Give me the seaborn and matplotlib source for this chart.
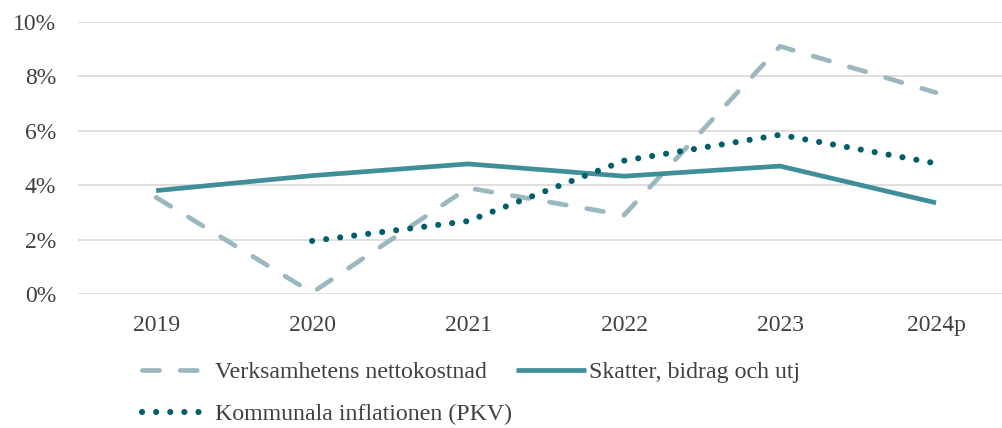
import matplotlib
matplotlib.use("Agg")
import matplotlib.pyplot as plt
import seaborn as sns
import pandas as pd
from matplotlib.ticker import PercentFormatter

years = ["2019", "2020", "2021", "2022", "2023", "2024p"]
netto = [3.55, 0.05, 3.9, 2.9, 9.1, 7.4]
skatter = [3.8, 4.35, 4.78, 4.33, 4.7, 3.35]
pkv = [None, 1.95, 2.68, 4.9, 5.85, 4.8]

labels = ["Verksamhetens nettokostnad", "Skatter, bidrag och utj",
          "Kommunala inflationen (PKV)"]
colors = ["#9BB7BF", "#3F8E99", "#005F6B"]

sns.set_theme(style="white")
plt.rcParams["font.family"] = ["Liberation Serif", "DejaVu Serif"]

df = pd.DataFrame({"x": range(len(years)), labels[0]: netto,
                   labels[1]: skatter, labels[2]: pkv})

fig = plt.figure(figsize=(10.02, 4.28), dpi=100)
ax = fig.add_axes([0.078, 0.313, 0.934, 0.636])

sns.lineplot(data=df, x="x", y=labels[0], ax=ax, color=colors[0], lw=3.4,
             label=labels[0])
sns.lineplot(data=df, x="x", y=labels[1], ax=ax, color=colors[1], lw=3.4,
             label=labels[1])
sns.lineplot(data=df.dropna(), x="x", y=labels[2], ax=ax, color=colors[2],
             lw=4.4, label=labels[2])

lines = ax.get_lines()
lines[0].set_linestyle((0, (3.6, 4.4)))
lines[0].set_dash_capstyle("round")
lines[1].set_solid_capstyle("butt")
lines[2].set_linestyle((0, (0.01, 2.3)))
lines[2].set_dash_capstyle("round")

ax.set_xlim(-0.5, 5.5)
ax.set_ylim(0, 10)
ax.set_yticks(range(0, 11, 2))
ax.yaxis.set_major_formatter(PercentFormatter(decimals=0))
ax.set_xticks(range(len(years)))
ax.set_xticklabels(years)
ax.set_xlabel("")
ax.set_ylabel("")
ax.tick_params(labelsize=17, colors="#404040", length=0)
ax.tick_params(axis="y", pad=16)
ax.tick_params(axis="x", pad=15)
ax.grid(axis="y", color="#D9D9D9", lw=1.2)
ax.set_axisbelow(True)
sns.despine(ax=ax, left=True, bottom=True, top=True, right=True)

ax.get_legend().remove()
handles = [lines[0], lines[2], lines[1]]
order = [labels[0], labels[2], labels[1]]
fig.legend(handles, order, loc="upper left", bbox_to_anchor=(0.12, 0.205),
           ncol=2, frameon=False, fontsize=17.2, handlelength=2.9,
           handletextpad=0.15, columnspacing=0.2, labelspacing=0.85,
           labelcolor="#404040")

fig.savefig("out.png", dpi=100)
